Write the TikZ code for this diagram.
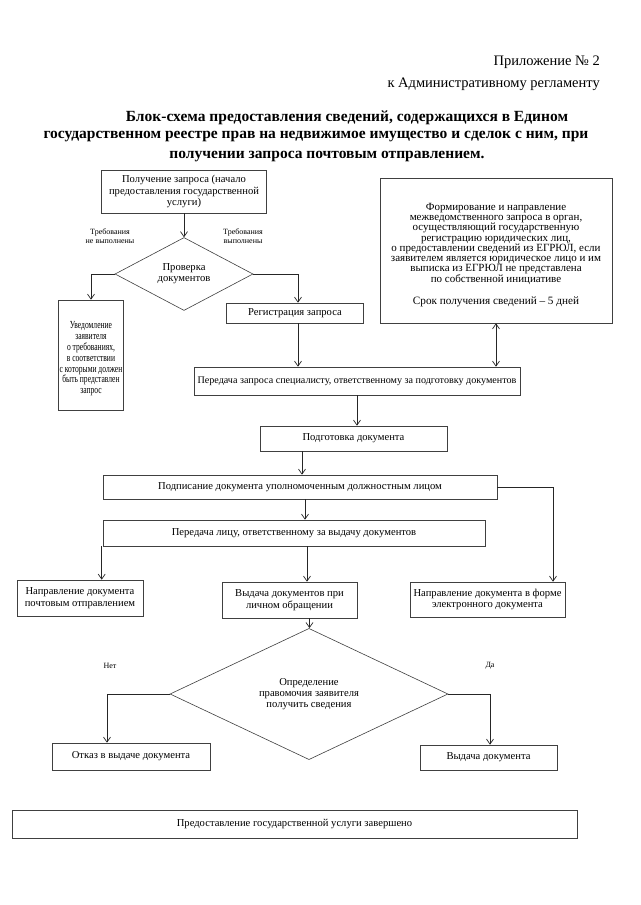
\documentclass[tikz,border=0pt]{standalone}
\usepackage{fontspec}
\setmainfont{Liberation Serif}
\newfontfamily\narrowserif[FakeStretch=0.7]{Liberation Serif}
\usetikzlibrary{shapes.geometric,arrows.meta}
\begin{document}
\begin{tikzpicture}[x=1pt,y=-1pt,
  box/.style={draw=black!75, line width=0.6pt, rectangle, inner sep=1pt, align=center, font=\fontsize{10.6}{11.5}\selectfont},
  dia/.style={draw=black!75, line width=0.6pt, diamond, inner sep=0pt, align=center, font=\fontsize{10.6}{11}\selectfont},
  arr/.style={draw=black!85, line width=0.7pt, -{Straight Barb[length=5pt,width=7pt]}},
  ln/.style={draw=black!85, line width=0.7pt},
  lbl/.style={inner sep=0pt, align=center, font=\fontsize{8}{9}\selectfont},
  hdr/.style={inner sep=0pt, font=\fontsize{14.5}{16}\selectfont},
  ttl/.style={inner sep=0pt, font=\bfseries\fontsize{15.5}{17}\selectfont}]
\useasboundingbox[fill=white] (0,0) rectangle (640,905);

% header
\node[hdr, anchor=east] (h1) at (600,62) {Приложение № 2};
\node[hdr, anchor=east] (h2) at (600,84) {к Административному регламенту};
\node[ttl] (t1) at (347,118) {Блок-схема предоставления сведений, содержащихся в Едином};
\node[ttl] (t2) at (316,137) {государственном реестре прав на недвижимое имущество и сделок с ним, при};
\node[ttl] (t3) at (327,157) {получении запроса почтовым отправлением.};

% nodes
\node[box, minimum width=165pt, minimum height=43pt] (b1) at (184,191.5)
  {Получение запроса (начало\\предоставления государственной\\услуги)};
\node[dia, minimum width=138pt, minimum height=62pt] (d1) at (184,274) {Проверка\\документов};
\node[lbl] (ln1) at (110,236) {Требования\\не выполнены};
\node[lbl] (ly1) at (243,236) {Требования\\выполнены};
\node[box, minimum width=65pt, minimum height=110pt, font=\narrowserif\fontsize{10.8}{10.8}\selectfont] (nt) at (91,355)
  {\rule{0pt}{15pt}Уведомление\\заявителя\\о требованиях,\\в соответствии\\с которыми должен\\быть представлен\\запрос};
\node[box, minimum width=137pt, minimum height=20pt] (reg) at (295,313) {Регистрация запроса};
\node[box, minimum width=232pt, minimum height=145pt, font=\fontsize{11}{10.2}\selectfont] (form) at (496,250.5)
  {\rule{0pt}{16pt}Формирование и направление\\межведомственного запроса в орган,\\осуществляющий государственную\\регистрацию юридических лиц,\\о предоставлении сведений из ЕГРЮЛ, если\\заявителем является юридическое лицо и им\\выписка из ЕГРЮЛ не представлена\\по собственной инициативе\\[11pt]{\fontsize{11.2}{11}\selectfont Срок получения сведений – 5 дней}};
\node[box, minimum width=326pt, minimum height=28pt, font=\fontsize{10.1}{11}\selectfont] (pz) at (357,381)
  {Передача запроса специалисту, ответственному за подготовку документов};
\node[box, minimum width=187pt, minimum height=25pt] (podg) at (353.5,438.5) {Подготовка документа};
\node[box, minimum width=394pt, minimum height=24pt] (podp) at (300,487)
  {Подписание документа уполномоченным должностным лицом};
\node[box, minimum width=382pt, minimum height=26pt] (pl) at (294,533)
  {Передача лицу, ответственному за выдачу документов};
\node[box, minimum width=126pt, minimum height=36pt] (np) at (80,598)
  {Направление документа\\почтовым отправлением};
\node[box, minimum width=135pt, minimum height=36pt] (vl) at (289.5,600)
  {Выдача документов при\\личном обращении};
\node[box, minimum width=155pt, minimum height=35pt] (el) at (487.5,599.5)
  {Направление документа в форме\\электронного документа};
\node[dia, minimum width=278pt, minimum height=88pt] (d2) at (309,694)
  {Определение\\правомочия заявителя\\получить сведения};
\node[lbl] (no) at (110,666) {Нет};
\node[lbl] (yes) at (490,666) {Да};
\node[box, minimum width=158pt, minimum height=27pt] (ot) at (131,756.5) {Отказ в выдаче документа};
\node[box, minimum width=137pt, minimum height=25pt] (vd) at (488.5,757.5) {Выдача документа};
\node[box, minimum width=565pt, minimum height=28pt] (fin) at (294.5,824)
  {Предоставление государственной услуги завершено};

% connectors
\draw[arr] (b1.south) -- (d1.north);
\draw[arr] (d1.west) -| (nt.north);
\draw[arr] (d1.east) -| ([xshift=3pt]reg.north);
\draw[arr] ([xshift=3pt]reg.south) -- ([xshift=3pt]reg.south |- pz.north);
\draw[ln, {Straight Barb[length=5pt,width=7pt]}-{Straight Barb[length=5pt,width=7pt]}] (form.south) -- (form.south |- pz.north);
\draw[arr] (pz.south) -- (pz.south |- podg.north);
\draw[arr] ([xshift=-51.5pt]podg.south) -- ([xshift=-51.5pt]podg.south |- podp.north);
\draw[arr] ([xshift=5pt]podp.south) -- ([xshift=5pt]podp.south |- pl.north);
\draw[arr] (podp.east) -| ([xshift=65.5pt]el.north);
\draw[arr] ([xshift=-1pt]pl.south west) -- ([xshift=-1pt]pl.south west |- np.north);
\draw[arr] ([xshift=13pt]pl.south) -- ([xshift=13pt]pl.south |- vl.north);
\draw[arr] ([xshift=20pt]vl.south) -- ([xshift=20pt]vl.south |- d2.north);
\draw[arr] (d2.west) -| ([xshift=-24pt]ot.north);
\draw[arr] (d2.east) -| ([xshift=1.5pt]vd.north);
\end{tikzpicture}
\end{document}
